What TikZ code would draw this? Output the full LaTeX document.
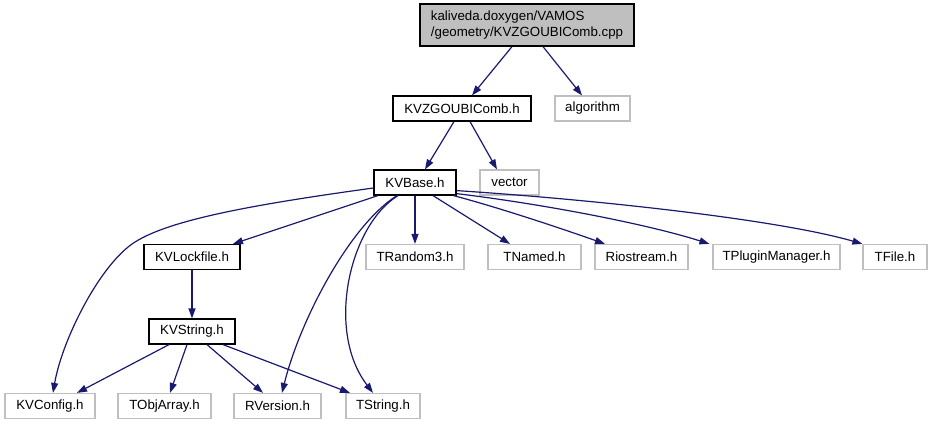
\documentclass[tikz,border=0pt]{standalone}
\usepackage{fontspec}
\setmainfont{Liberation Sans}
\usetikzlibrary{arrows.meta}
\definecolor{edgeblue}{HTML}{191970}
\definecolor{greyc}{HTML}{BFBFBF}
\begin{document}
\begin{tikzpicture}[x=1pt,y=-1pt,
  every node/.style={font=\fontsize{13.3}{16}\selectfont, inner sep=0pt, minimum height=25pt, anchor=center},
  realbox/.style={draw=black, line width=1.2pt, fill=white},
  extbox/.style={draw=greyc, line width=1.2pt, fill=white},
  dep/.style={draw=edgeblue, line width=1.2pt, -{Triangle[length=10pt,width=7pt]}}]
\useasboundingbox (0,0) rectangle (932,425);
% nodes
\node[draw=black, line width=1.2pt, fill=greyc, minimum width=214pt, minimum height=42pt, align=left] (top) at (527,25) {kaliveda.doxygen/VAMOS\\/geometry/KVZGOUBIComb.cpp};
\node[realbox, minimum width=138pt] (kvz) at (462,108.5) {KVZGOUBIComb.h};
\node[extbox, minimum width=75pt] (alg) at (592.5,108.5) {algorithm};
\node[realbox, minimum width=82pt] (kvbase) at (415,182.5) {KVBase.h};
\node[extbox, minimum width=59pt] (vec) at (509.5,182.5) {vector};
\node[realbox, minimum width=96pt] (kvlock) at (192,257) {KVLockfile.h};
\node[extbox, minimum width=98pt] (trand) at (415,257) {TRandom3.h};
\node[extbox, minimum width=93pt] (tnamed) at (534.5,257) {TNamed.h};
\node[extbox, minimum width=93pt] (rio) at (641.5,257) {Riostream.h};
\node[extbox, minimum width=127pt] (tplug) at (776.5,257) {TPluginManager.h};
\node[extbox, minimum width=64pt] (tfile) at (895,257) {TFile.h};
\node[realbox, minimum width=86pt] (kvstr) at (192,331.5) {KVString.h};
\node[extbox, minimum width=90pt] (kvconf) at (50,406) {KVConfig.h};
\node[extbox, minimum width=93pt] (tobj) at (164.5,406) {TObjArray.h};
\node[extbox, minimum width=87pt] (rver) at (277.5,406) {RVersion.h};
\node[extbox, minimum width=74pt] (tstr) at (383,406) {TString.h};
% edges
\draw[dep] ([xshift=-15pt]top.south) -- ([xshift=10pt]kvz.north);
\draw[dep] ([xshift=16pt]top.south) -- ([xshift=-10.5pt]alg.north);
\draw[dep] ([xshift=-8pt]kvz.south) -- ([xshift=10pt]kvbase.north);
\draw[dep] ([xshift=8pt]kvz.south) -- ([xshift=-12.5pt]vec.north);
\draw[dep] ([yshift=-5.5pt]kvbase.west) .. controls (250,205) and (170,220) .. (135,242)
  .. controls (100,264) and (62,340) .. ([xshift=3pt]kvconf.north);
\draw[dep] ([xshift=-37pt]kvbase.south) -- ([xshift=41pt]kvlock.north);
\draw[dep] ([xshift=-18pt]kvbase.south) .. controls (350,225) and (300,320) .. ([xshift=4.5pt]rver.north);
\draw[dep] ([xshift=-17pt]kvbase.south) .. controls (350,225) and (325,330) .. ([xshift=-10pt]tstr.north);
\draw[dep] (kvbase.south) -- (trand.north);
\draw[dep] ([xshift=18pt]kvbase.south) -- ([xshift=-24.5pt]tnamed.north);
\draw[dep] ([xshift=-3pt]kvbase.south east) .. controls (500,208) and (560,228) .. ([xshift=-36.5pt]rio.north);
\draw[dep] ([yshift=2pt]kvbase.south east) .. controls (550,205) and (650,225) .. ([xshift=-3pt]tplug.north west);
\draw[dep] ([yshift=5pt]kvbase.south east) .. controls (600,200) and (780,220) .. (tfile.north west);
\draw[dep] (kvlock.south) -- (kvstr.north);
\draw[dep] ([xshift=-23pt]kvstr.south) -- ([xshift=27pt]kvconf.north);
\draw[dep] ([xshift=-5pt]kvstr.south) -- ([xshift=5.5pt]tobj.north);
\draw[dep] ([xshift=15pt]kvstr.south) -- ([xshift=-14.5pt]rver.north);
\draw[dep] ([xshift=31pt]kvstr.south) -- ([xshift=-33pt]tstr.north);
\end{tikzpicture}
\end{document}
